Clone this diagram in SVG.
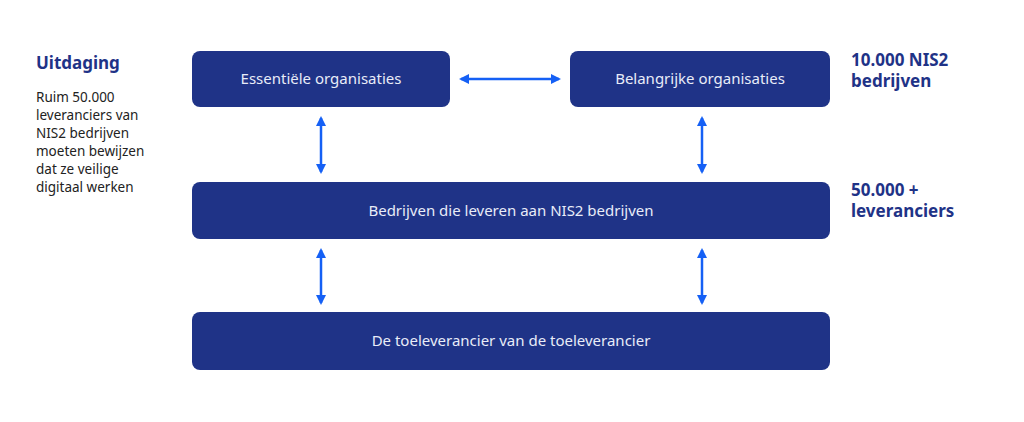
<svg xmlns="http://www.w3.org/2000/svg" width="1024" height="422" viewBox="0 0 1024 422">
<style>
.box{fill:#1f3387}
.bt{font-family:"Noto Sans","Liberation Sans",sans-serif;font-size:15px;fill:#e8ecf8;text-anchor:middle}
.h{font-family:"Noto Sans","Liberation Sans",sans-serif;font-weight:bold;fill:#1f3387;font-size:17px}
.p{font-family:"Noto Sans","Liberation Sans",sans-serif;font-size:13.5px;fill:#222}
.a{stroke:#1560f5;stroke-width:2.5;fill:none;marker-start:url(#m);marker-end:url(#m)}
</style>
<defs><marker id="m" viewBox="0 0 10 10" refX="8" refY="5" markerWidth="4" markerHeight="4" orient="auto-start-reverse"><path d="M0,0L10,5L0,10z" fill="#1560f5"/></marker></defs>
<rect width="1024" height="422" fill="#fff"/>
<g id="texts">
<text class="h" x="36" y="69">Uitdaging</text>
<text class="p"><tspan x="36" y="102">Ruim 50.000</tspan><tspan x="36" y="120">leveranciers van</tspan><tspan x="36" y="138">NIS2 bedrijven</tspan><tspan x="36" y="156">moeten bewijzen</tspan><tspan x="36" y="174">dat ze veilige</tspan><tspan x="36" y="192">digitaal werken</tspan></text>
<text class="h"><tspan x="851" y="66">10.000 NIS2</tspan><tspan x="851" y="87">bedrijven</tspan></text>
<text class="h"><tspan x="851" y="196">50.000 +</tspan><tspan x="851" y="217">leveranciers</tspan></text>
</g>
<g id="n1"><rect class="box" x="192" y="51" width="258" height="56" rx="8"/><text class="bt" x="321" y="84">Essentiële organisaties</text></g>
<g id="n2"><rect class="box" x="570" y="51" width="260" height="56" rx="8"/><text class="bt" x="700" y="84">Belangrijke organisaties</text></g>
<g id="n3"><rect class="box" x="192" y="182" width="638" height="57" rx="8"/><text class="bt" x="511" y="216">Bedrijven die leveren aan NIS2 bedrijven</text></g>
<g id="n4"><rect class="box" x="192" y="312" width="638" height="58" rx="8"/><text class="bt" x="511" y="346">De toeleverancier van de toeleverancier</text></g>
<g id="connectors">
<line class="a" x1="461" y1="79" x2="559" y2="79"/>
<line class="a" x1="321" y1="118" x2="321" y2="172"/>
<line class="a" x1="702" y1="118" x2="702" y2="172"/>
<line class="a" x1="321" y1="250" x2="321" y2="303"/>
<line class="a" x1="702" y1="250" x2="702" y2="303"/>
</g>
</svg>
